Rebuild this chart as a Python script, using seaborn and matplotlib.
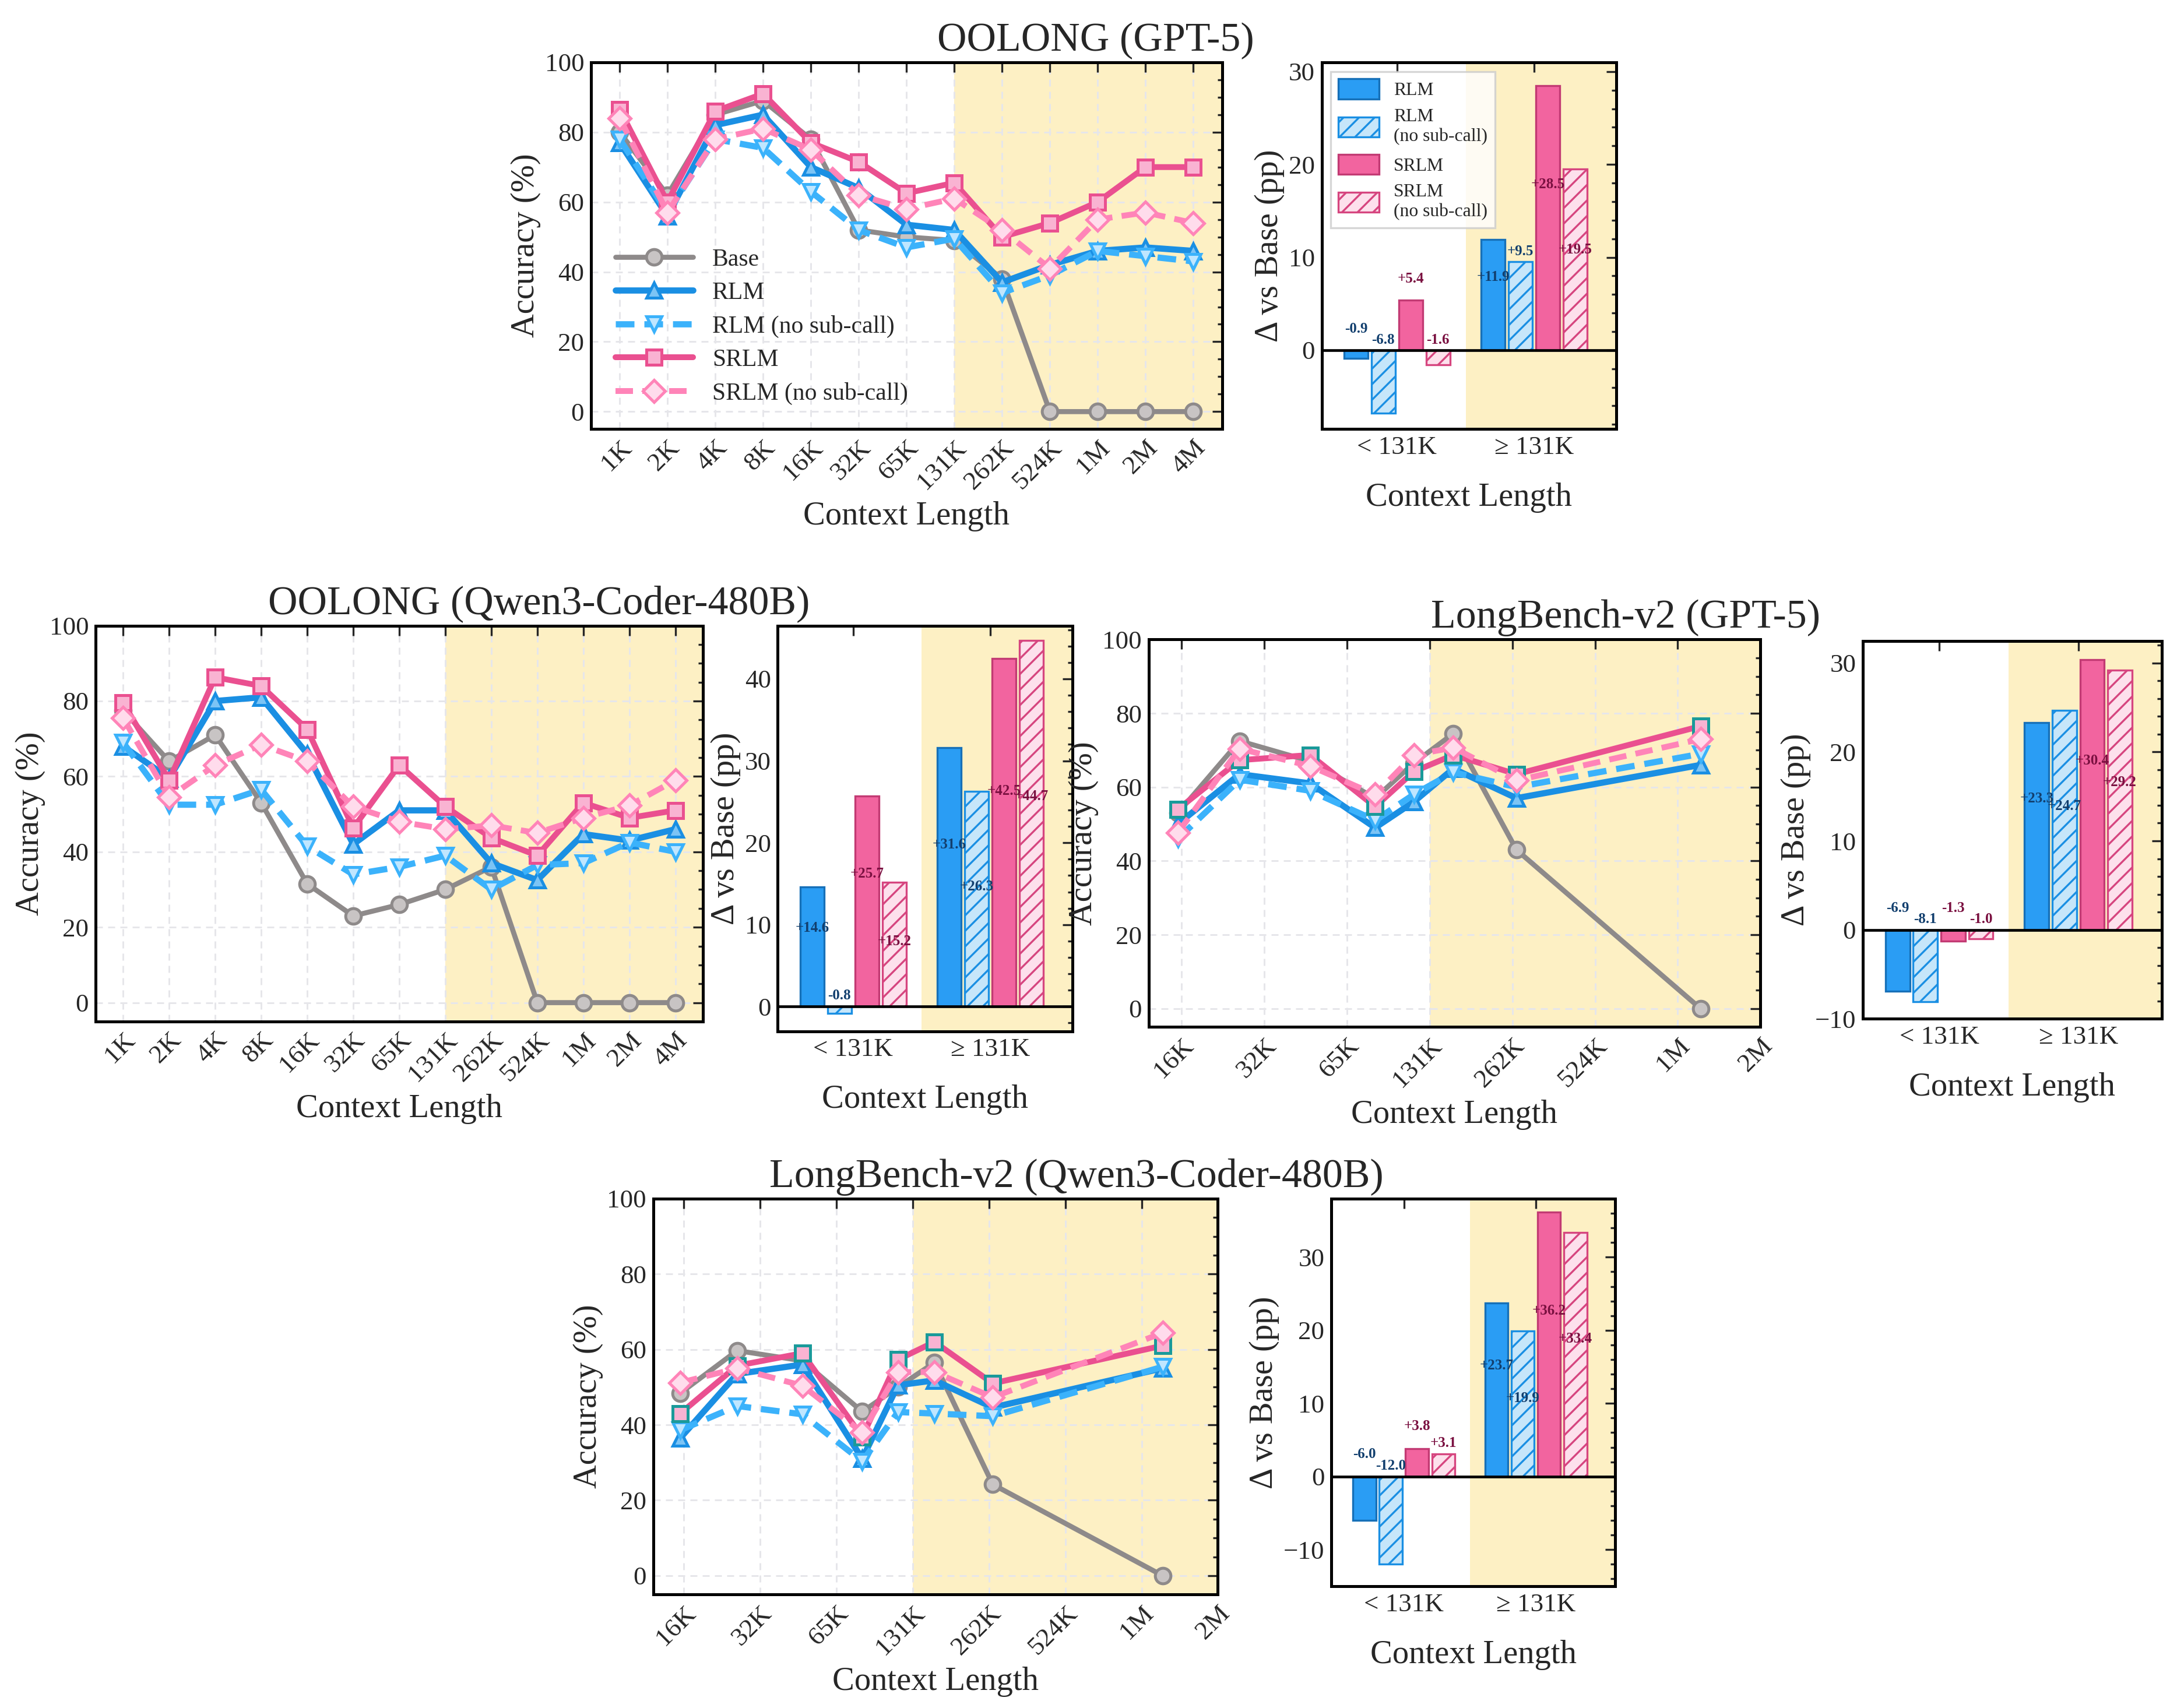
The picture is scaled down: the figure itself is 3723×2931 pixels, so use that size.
import numpy as np
import pandas as pd
import matplotlib
matplotlib.use("Agg")
import matplotlib.pyplot as plt
import seaborn as sns
from matplotlib.ticker import AutoMinorLocator

sns.set_theme(style="white")
plt.rcParams['font.family'] = ['Liberation Serif', 'DejaVu Serif']
plt.rcParams['mathtext.fontset'] = 'stix'

# ---------------- data ----------------
oolong_ticks = ["1K", "2K", "4K", "8K", "16K", "32K", "65K", "131K", "262K", "524K", "1M", "2M", "4M"]
oolong_x = list(range(13))
og_base = [80, 62, 85, 89, 78, 52, 50, 49, 38, 0, 0, 0, 0]
og_rlm = [77, 56, 82, 85, 70, 64, 53.5, 52, 37, 42, 46, 47, 46]
og_rlmns = [78, 57, 78, 75.5, 63, 52, 47, 49.5, 34, 39, 46, 44.5, 43]
og_srlm = [86.5, 60, 86, 91, 77, 71.5, 62.5, 65.5, 50, 54, 60, 70, 70]
og_srlmns = [84, 57, 78, 81, 75, 62, 58, 61, 52, 41, 55, 57, 54]

oq_base = [77.5, 64, 71, 53, 31.5, 23, 26, 30, 36, 0, 0, 0, 0]
oq_rlm = [68, 59.5, 80, 81, 66, 42, 51, 51, 37, 32.5, 44.7, 43, 46]
oq_rlmns = [69, 52.5, 52.5, 56.5, 41.5, 34, 36, 39, 30, 36.5, 37, 42.5, 40]
oq_srlm = [79.5, 59, 86.3, 84, 72.5, 46.3, 63, 52, 43.7, 39, 53, 49, 51]
oq_srlmns = [75.5, 54.5, 63, 68.4, 64, 52, 48, 46, 47, 45, 49, 52.3, 59]

lb_ticks = ["16K", "32K", "65K", "131K", "262K", "524K", "1M", "2M"]
lb_len_k = [15.5, 26, 47, 81, 112, 156, 265, 1240]  # approx context length (K tokens)
lg_base = [53, 72.5, 67, 57, 66.5, 74.5, 43, 0]
lg_rlm = [50, 63.5, 61, 49, 56, 65, 57, 66]
lg_rlmns = [46, 62, 59, 51, 58, 64, 60, 69]
lg_srlm = [54, 67.3, 68.7, 54.7, 64.2, 68.7, 63.5, 76.5]
lg_srlmns = [47.7, 70.4, 65.7, 58, 68.7, 70.7, 61.8, 73]

lq_base = [48.4, 59.7, 57, 43.5, 50, 56.5, 24.2, 0]
lq_rlm = [36.5, 53.5, 56, 31, 50.5, 51.8, 44.6, 55]
lq_rlmns = [38.6, 45, 42.8, 30.3, 43.4, 43, 42.3, 55.4]
lq_srlm = [43, 55.7, 59, 36.8, 57.3, 62, 51, 61]
lq_srlmns = [51.2, 55, 50.4, 38, 54, 54, 47.3, 64.4]

bar_groups = ["< 131K", "≥ 131K"]
bar_og = [[-0.9, -6.8, 5.4, -1.6], [11.9, 9.5, 28.5, 19.5]]
bar_oq = [[14.6, -0.8, 25.7, 15.2], [31.6, 26.3, 42.5, 44.7]]
bar_lg = [[-6.9, -8.1, -1.3, -1.0], [23.3, 24.7, 30.4, 29.2]]
bar_lq = [[-6.0, -12.0, 3.8, 3.1], [23.7, 19.9, 36.2, 33.4]]

series_names = ["Base", "RLM", "RLM (no sub-call)", "SRLM", "SRLM (no sub-call)"]
bar_names = ["RLM", "RLM\n(no sub-call)", "SRLM", "SRLM\n(no sub-call)"]

# ---------------- styles ----------------
SHADE = "#fdf0c4"
styles = {
    "Base": dict(color="#8e8a8a", marker="o", mfc="#c8c4c4", mec="#8e8a8a", ls="-", lw=2.6),
    "RLM": dict(color="#1a8fe3", marker="^", mfc="#7cc4f5", mec="#1a8fe3", ls="-", lw=3.2),
    "RLM (no sub-call)": dict(color="#3bb2fb", marker="v", mfc="#bfe6ff", mec="#3bb2fb", ls=(0, (3, 1.6)), lw=3.2),
    "SRLM": dict(color="#ea5090", marker="s", mfc="#f9b3d2", mec="#ea5090", ls="-", lw=3.0),
    "SRLM (no sub-call)": dict(color="#ff84b8", marker="D", mfc="#ffdcec", mec="#ff84b8", ls=(0, (3, 1.6)), lw=3.0),
}
bar_fc = ["#2a9df4", "#c6e6fa", "#f2649f", "#fde0ec"]
bar_ec = ["#1670b8", "#1a8fe3", "#c23a73", "#d6457f"]
bar_hatch = [None, "///", None, "///"]
bar_tc = ["#123f6e", "#123f6e", "#7a1040", "#7a1040"]

W, H = 1568.0, 1234.0
fig = plt.figure(figsize=(3723 / 240, 2931 / 240), dpi=240)


def add_ax(l, r, t, b):
    return fig.add_axes([l / W, 1 - b / H, (r - l) / W, (b - t) / H])


def style_ax(ax):
    ax.tick_params(direction="in", which="both", top=True, right=True, labelsize=13.5, width=1.0)
    ax.tick_params(which="major", length=5)
    ax.tick_params(which="minor", length=2.5)
    for s in ax.spines.values():
        s.set_linewidth(1.5)
        s.set_color("black")


def line_panel(ax, xs, data, ticks, tickpos, xlim, shade_from, teal=False, legend=False):
    ax.axvspan(shade_from, xlim[1], color=SHADE, zorder=0, lw=0)
    for name, vals in zip(series_names, data):
        st = styles[name]
        df = pd.DataFrame({"x": xs, "y": vals})
        sns.lineplot(data=df, x="x", y="y", ax=ax, color=st["color"], lw=st["lw"], label=name,
                     marker=st["marker"], markersize=8, markerfacecolor=st["mfc"],
                     markeredgecolor=("#1a9a9a" if (teal and name == "SRLM") else st["mec"]),
                     markeredgewidth=1.5, zorder=3, legend=False)
        ax.lines[-1].set_linestyle(st["ls"])
    ax.set_xlim(*xlim)
    ax.set_ylim(-5, 100)
    ax.set_yticks([0, 20, 40, 60, 80, 100])
    ax.yaxis.set_minor_locator(AutoMinorLocator(4))
    ax.set_xticks(tickpos)
    ax.set_xticklabels(ticks, rotation=45, ha="right", rotation_mode="anchor")
    ax.grid(True, ls=(0, (4, 3)), color="#e6e6ea", lw=0.9)
    ax.set_axisbelow(True)
    ax.set_xlabel("Context Length", fontsize=17)
    ax.set_ylabel("Accuracy (%)", fontsize=17, labelpad=2)
    style_ax(ax)
    ax.tick_params(axis="x", which="minor", bottom=False, top=False)
    if legend:
        ax.legend(loc="lower left", bbox_to_anchor=(0.0, 0.0), frameon=False, fontsize=12.5,
                  handlelength=3.2, labelspacing=0.45, borderaxespad=0.6)


def bar_panel(ax, vals, ylim, yticks, legend=False):
    ax.axvspan(0.5, 1.6, color=SHADE, zorder=0, lw=0)
    w = 0.19
    offs = [-1.5 * w, -0.5 * w, 0.5 * w, 1.5 * w]
    span = ylim[1] - ylim[0]
    for g in range(2):
        for i in range(4):
            v = vals[g][i]
            x = g + offs[i] * 1.05
            ax.bar(x, v, width=w * 0.92, color=bar_fc[i], edgecolor=bar_ec[i], hatch=bar_hatch[i],
                   lw=1.0, zorder=3, label=bar_names[i] if g == 0 else None)
            if v > 10:
                ty = 0.6 * v - (0.04 * span if i % 2 else 0)
            else:
                ty = max(v, 0) + (0.04 * span if i % 2 == 0 else 0.01 * span)
            ax.text(x, ty, f"{v:+.1f}" if v > 0 else f"{v:.1f}", ha="center", va="bottom",
                    fontsize=7.5, fontweight="bold", color=bar_tc[i], zorder=5)
    ax.axhline(0, color="black", lw=1.4, zorder=4)
    ax.set_xlim(-0.55, 1.6)
    ax.set_ylim(*ylim)
    ax.set_yticks(yticks)
    ax.yaxis.set_minor_locator(AutoMinorLocator(5))
    ax.set_xticks([0, 1])
    ax.set_xticklabels(bar_groups)
    ax.set_xlabel("Context Length", fontsize=17, labelpad=12)
    ax.set_ylabel("Δ vs Base (pp)", fontsize=17, labelpad=2)
    style_ax(ax)
    ax.tick_params(axis="x", which="minor", bottom=False, top=False)
    if legend:
        ax.legend(loc="upper left", fontsize=9.5, frameon=True, fancybox=False, edgecolor="#cccccc",
                  handlelength=2.2, handleheight=1.3, labelspacing=0.5)


lb_x = [float(np.log2(v / 16.0)) for v in lb_len_k]

# Row 1
a1 = add_ax(427, 883, 45, 310)
line_panel(a1, oolong_x, [og_base, og_rlm, og_rlmns, og_srlm, og_srlmns], oolong_ticks, oolong_x,
           (-0.6, 12.6), 7.0, legend=True)
a1.set_title("OOLONG (GPT-5)", fontsize=21, x=0.8, pad=6)
b1 = add_ax(955, 1168, 45, 310)
bar_panel(b1, bar_og, (-8.5, 31), [0, 10, 20, 30], legend=True)

# Row 2 left
a2 = add_ax(69, 508, 452, 738)
line_panel(a2, oolong_x, [oq_base, oq_rlm, oq_rlmns, oq_srlm, oq_srlmns], oolong_ticks, oolong_x,
           (-0.6, 12.6), 7.0)
a2.set_title("OOLONG (Qwen3-Coder-480B)", fontsize=21, x=0.73, pad=6)
b2 = add_ax(562, 775, 452, 745)
bar_panel(b2, bar_oq, (-3, 46.5), [0, 10, 20, 30, 40])

# Row 2 right
a3 = add_ax(830, 1272, 462, 742)
line_panel(a3, lb_x, [lg_base, lg_rlm, lg_rlmns, lg_srlm, lg_srlmns], lb_ticks, list(range(8)),
           (-0.4, 7.0), 3.0, teal=True)
a3.set_title("LongBench-v2 (GPT-5)", fontsize=21, x=0.78, pad=6)
b3 = add_ax(1346, 1562, 463, 736)
bar_panel(b3, bar_lg, (-10, 32.5), [-10, 0, 10, 20, 30])

# Row 3
a4 = add_ax(472, 880, 866, 1152)
line_panel(a4, lb_x, [lq_base, lq_rlm, lq_rlmns, lq_srlm, lq_srlmns], lb_ticks, list(range(8)),
           (-0.4, 7.0), 3.0, teal=True)
a4.set_title("LongBench-v2 (Qwen3-Coder-480B)", fontsize=21, x=0.75, pad=6)
b4 = add_ax(962, 1167, 866, 1146)
bar_panel(b4, bar_lq, (-15, 38), [-10, 0, 10, 20, 30])

fig.savefig("out.png", dpi=240)
